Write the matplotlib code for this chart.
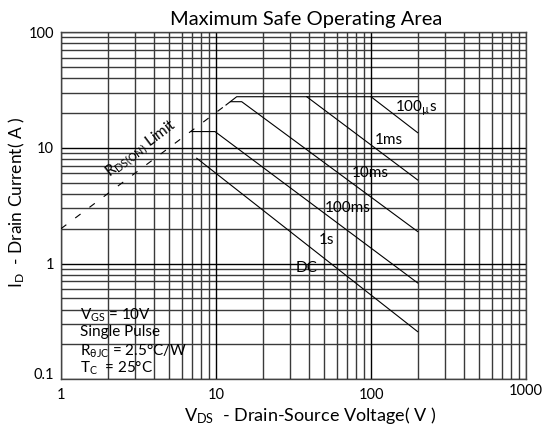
import matplotlib
matplotlib.use("Agg")
import matplotlib.pyplot as plt
from matplotlib.transforms import ScaledTranslation

plt.rcParams['font.family'] = ['Lato', 'DejaVu Sans']
plt.rcParams['mathtext.fontset'] = 'custom'
plt.rcParams['mathtext.rm'] = 'Lato'
plt.rcParams['mathtext.it'] = 'Lato:italic'

# ---- data (V in volts, I in amps) ----
rds_limit_v = [1.0, 11.6]
rds_limit_i = [2.0, 23.4]

top_v = [11.6, 13.6, 200.0]
top_i = [23.4, 27.6, 27.6]

us100_v = [100.0, 200.0]
us100_i = [27.6, 13.5]

ms1_v = [38.5, 200.0]
ms1_i = [27.6, 5.27]

ms10_v = [12.4, 14.65, 200.0]
ms10_i = [25.0, 25.0, 1.89]

ms100_v = [6.97, 9.85, 200.0]
ms100_i = [13.8, 13.8, 0.68]

dc_v = [7.51, 200.0]
dc_i = [8.12, 0.258]

curve_labels = [r'100$_{\rm µ}$s', '1ms', '10ms', '100ms', '1s', 'DC']
curve_label_v = [195.0, 130.7, 98.5, 71.1, 51.3, 38.5]
curve_label_i = [22.1, 11.7, 6.06, 3.02, 1.60, 0.916]

rds_label = r'R$_{\rm DS(ON)}$ Limit'
rds_label_v = 3.3
rds_label_i = 9.8

cond_lines = [r'V$_{\rm GS}$ = 10V', 'Single Pulse',
              r'R$_{\rm θJC}$ = 2.5°C/W', r'T$_{\rm C}$  = 25°C']

x_ticks = [1, 10, 100, 1000]
x_tick_labels = ['1', '10', '100', '1000']
y_ticks = [0.1, 1, 10, 100]
y_tick_labels = ['0.1', '1', '10', '100']

x_minor = [m * d for d in (1, 10, 100) for m in range(2, 10)]
y_minor = [m * d for d in (0.1, 1, 10) for m in range(2, 10)]

# ---- figure ----
fig = plt.figure(figsize=(5.46, 4.28), dpi=100)
ax = fig.add_axes([61/546, 1-379.3/428, 465/546, 347.3/428])
ax.set_xscale('log')
ax.set_yscale('log')
ax.set_xlim(1, 1000)
ax.set_ylim(0.1, 100)

for v in x_minor:
    ax.axvline(v, color='#3a3a3a', lw=1.0, zorder=1)
for v in y_minor:
    ax.axhline(v, color='#3a3a3a', lw=1.0, zorder=1)
for v in x_ticks:
    ax.axvline(v, color='black', lw=1.0, zorder=1)
for v in y_ticks:
    ax.axhline(v, color='black', lw=1.0, zorder=1)

lw = 0.8
ax.plot(rds_limit_v, rds_limit_i, color='black', lw=lw, ls=(0, (6, 10)), zorder=3)
for vs, is_ in [(top_v, top_i), (us100_v, us100_i), (ms1_v, ms1_i),
                (ms10_v, ms10_i), (ms100_v, ms100_i), (dc_v, dc_i)]:
    ax.plot(vs, is_, color='black', lw=lw, zorder=3)

for t, v, i in zip(curve_labels, curve_label_v, curve_label_i):
    ax.text(v, i, t, fontsize=11, ha='center', va='center', zorder=4)

ax.text(rds_label_v, rds_label_i, rds_label, fontsize=11, ha='center',
        va='center', rotation=37, rotation_mode='anchor', zorder=4)

cond_y = [0.185, 0.135, 0.0815, 0.0317]
for t, yy in zip(cond_lines, cond_y):
    ax.text(0.041, yy, t, transform=ax.transAxes, fontsize=11,
            ha='left', va='center', zorder=4)

ax.set_xticks(x_ticks)
ax.set_xticklabels(x_tick_labels)
ax.set_xticks([], minor=True)
ax.set_yticks(y_ticks)
ax.set_yticklabels(y_tick_labels)
ax.set_yticks([], minor=True)
ax.tick_params(axis='both', which='both', length=0, labelsize=10.5)
ax.tick_params(axis='x', pad=6)
ax.tick_params(axis='y', pad=5)

ylabs = ax.get_yticklabels()
ylabs[0].set_transform(ylabs[0].get_transform() + ScaledTranslation(0, 6/100, fig.dpi_scale_trans))
xlabs = ax.get_xticklabels()
xlabs[-1].set_transform(xlabs[-1].get_transform() + ScaledTranslation(0, 4/100, fig.dpi_scale_trans))

for s in ax.spines.values():
    s.set_color('#444444')
    s.set_linewidth(1.0)

fig.text(306/546, 1-19/428, 'Maximum Safe Operating Area', fontsize=14.5,
         ha='center', va='center')
fig.text(310/546, 1-416/428, r'V$_{\rm DS}$  - Drain-Source Voltage( V )',
         fontsize=13, ha='center', va='center')
fig.text(17/546, 1-202/428, r'I$_{\rm D}$  - Drain Current( A )',
         fontsize=12.5, ha='center', va='center', rotation=90)

fig.savefig('out.png', dpi=100)
